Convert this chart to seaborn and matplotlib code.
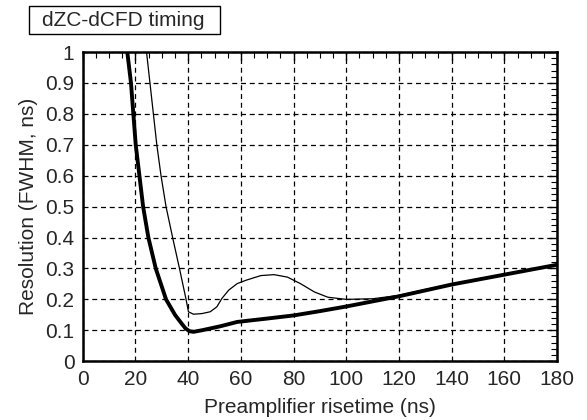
import matplotlib
matplotlib.use("Agg")
import matplotlib.pyplot as plt
from matplotlib.patches import Rectangle
import seaborn as sns
import pandas as pd
from matplotlib.ticker import MultipleLocator, FormatStrFormatter

# thick curve
thick_x = [16.9, 18.3, 19.2, 20.1, 21.5, 22.9, 24.9, 27.7, 31.6, 35.0, 37.5, 39.0,
           40.5, 42.0, 45.2, 52.2, 58.6, 70.0, 80.0, 90.0, 100.0, 120.0, 140.0, 160.0, 180.0]
thick_y = [1.0, 0.9, 0.8, 0.7, 0.6, 0.5, 0.4, 0.3, 0.2, 0.15, 0.122, 0.106,
           0.097, 0.095, 0.1, 0.113, 0.127, 0.138, 0.148, 0.162, 0.177, 0.21, 0.248, 0.28, 0.312]

# thin curve
thin_x = [24.2, 25.5, 26.8, 28.1, 29.7, 31.6, 34.1, 36.7, 39.2, 40.1, 42.0, 45.2,
          48.4, 50.9, 52.8, 55.4, 58.6, 62.0, 67.6, 72.6, 77.7, 82.8, 87.9, 93.0,
          100.0, 110.0, 120.0, 130.0, 140.0, 160.0, 180.0]
thin_y = [1.0, 0.9, 0.8, 0.7, 0.6, 0.5, 0.4, 0.3, 0.2, 0.16, 0.152, 0.154,
          0.16, 0.176, 0.203, 0.23, 0.251, 0.262, 0.277, 0.28, 0.272, 0.25, 0.224, 0.207,
          0.2, 0.202, 0.213, 0.232, 0.25, 0.282, 0.312]

thick = pd.DataFrame({"x": thick_x, "y": thick_y})
thin = pd.DataFrame({"x": thin_x, "y": thin_y})

sns.set_style("white")
plt.rcParams["font.family"] = ["Liberation Sans", "DejaVu Sans"]
fs = 15

fig = plt.figure(figsize=(5.87, 4.2), dpi=100)
ax = fig.add_axes([0.141, 0.140, 0.808, 0.736])

sns.lineplot(data=thin, x="x", y="y", ax=ax, color="black", linewidth=0.9, sort=False)
sns.lineplot(data=thick, x="x", y="y", ax=ax, color="black", linewidth=2.8, sort=False)

ax.set_xlim(0, 180)
ax.set_ylim(0, 1)
ax.xaxis.set_major_locator(MultipleLocator(20))
ax.xaxis.set_minor_locator(MultipleLocator(5))
ax.yaxis.set_major_locator(MultipleLocator(0.1))
ax.yaxis.set_minor_locator(MultipleLocator(0.02))
ax.yaxis.set_major_formatter(FormatStrFormatter("%g"))
ax.tick_params(which="both", direction="in", top=True, right=True, color="black",
               labelsize=fs, pad=6)
ax.tick_params(which="major", length=6, width=1)
ax.tick_params(which="minor", length=4, width=0.8)
ax.grid(True, which="major", linestyle=(0, (4, 3)), color="black", linewidth=0.9)
for s in ax.spines.values():
    s.set_color("black")
    s.set_linewidth(1.8)

ax.set_xlabel("Preamplifier risetime (ns)", fontsize=fs, labelpad=7)
ax.set_ylabel("Resolution (FWHM, ns)", fontsize=fs, labelpad=5)

# title box
fig.patches.append(Rectangle((29 / 587, 1 - 34 / 420), 191 / 587, 28 / 420,
                             transform=fig.transFigure, fill=False,
                             edgecolor="black", linewidth=1))
fig.text(42 / 587, 1 - 20 / 420, "dZC-dCFD timing", fontsize=fs, ha="left", va="center")

fig.savefig("out.png", dpi=100)
